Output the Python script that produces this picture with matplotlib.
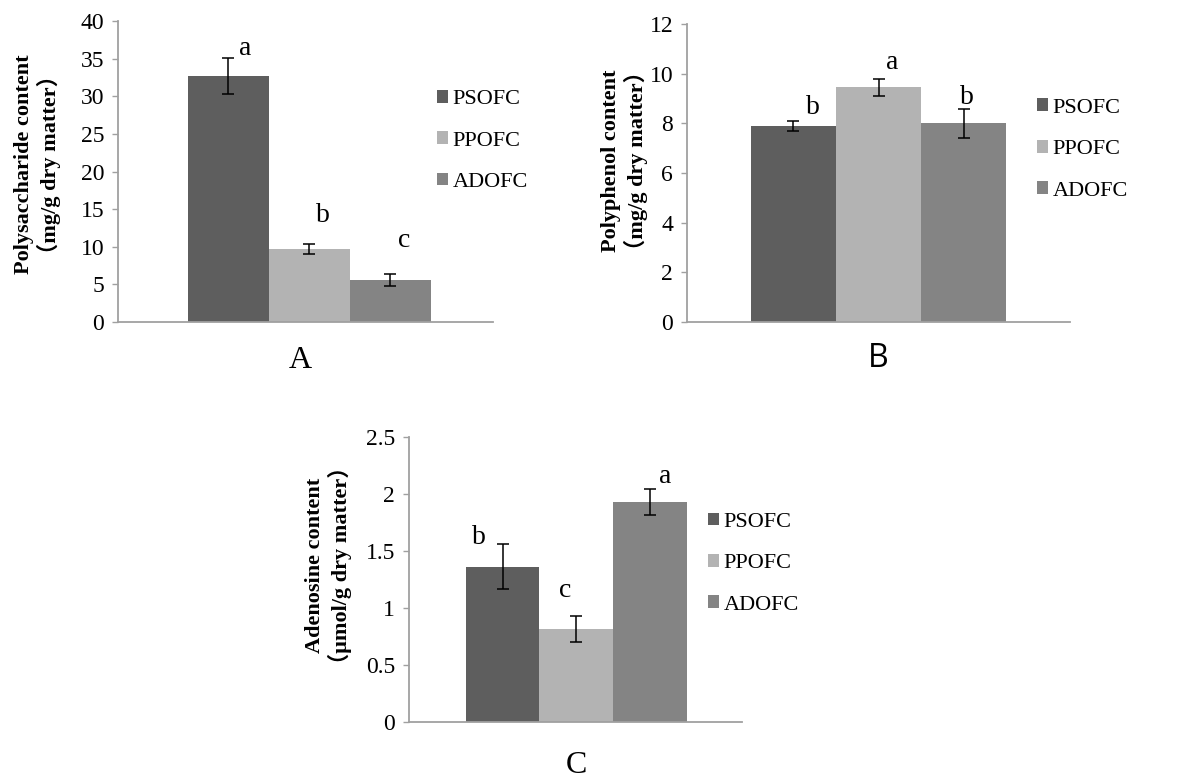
import matplotlib
matplotlib.use("Agg")
import matplotlib.pyplot as plt
from matplotlib.patches import Patch

# data
groups = ["PSOFC", "PPOFC", "ADOFC"]
colors = ["#5e5e5e", "#b3b3b3", "#848484"]

poly_sacch = [32.7, 9.7, 5.6]
poly_sacch_err = [2.45, 0.7, 0.8]
poly_sacch_sig = ["a", "b", "c"]

poly_phen = [7.9, 9.45, 8.0]
poly_phen_err = [0.2, 0.34, 0.57]
poly_phen_sig = ["b", "a", "b"]

adeno = [1.36, 0.81, 1.93]
adeno_err = [0.2, 0.115, 0.115]
adeno_sig = ["b", "c", "a"]

SERIF = ["Liberation Serif", "DejaVu Serif"]
LABEL_FONT = ["Liberation Serif", "Noto Sans CJK SC"]
SPINE = "#a0a0a0"

fig = plt.figure(figsize=(11.98, 7.82), dpi=100)

def panel(rect, vals, errs, sig, sig_off, ylim, yticks, xlim, ylabel, lab_xy,
          leg_xy, panel_lab, panel_xy, panel_family):
    ax = fig.add_axes(rect)
    x = [-1, 0, 1]
    ax.bar(x, vals, width=1.0, color=colors, edgecolor="none", zorder=2)
    ax.errorbar(x, vals, yerr=errs, fmt="none", ecolor="black", elinewidth=1.1,
                capsize=4.5, capthick=1.1, zorder=3)
    for xi, v, e, s, (dx, dy) in zip(x, vals, errs, sig, sig_off):
        ax.annotate(s, (xi, v + e), xytext=(dx, dy), textcoords="offset points",
                    ha="center", va="baseline", fontsize=20, family=SERIF)
    ax.set_xlim(*xlim)
    ax.set_ylim(*ylim)
    ax.set_yticks(yticks)
    ax.set_yticklabels([f"{t:g}" for t in yticks], family=SERIF, fontsize=17)
    ax.set_xticks([])
    for s in ("top", "right"):
        ax.spines[s].set_visible(False)
    for s in ("left", "bottom"):
        ax.spines[s].set_color(SPINE)
        ax.spines[s].set_linewidth(1.3)
    ax.tick_params(axis="y", length=4, width=1.0, color=SPINE, pad=6)
    fig.text(lab_xy[0], lab_xy[1], ylabel, rotation=90, ha="center", va="center",
             fontsize=16, fontweight="bold", family=LABEL_FONT, linespacing=1.15,
             multialignment="center")
    handles = [Patch(facecolor=c, edgecolor="none", label=g) for c, g in zip(colors, groups)]
    fig.legend(handles=handles, loc="center left", bbox_to_anchor=leg_xy,
               frameon=False, prop={"family": SERIF, "size": 16},
               handlelength=0.5, handleheight=0.5, handletextpad=0.2,
               labelspacing=1.0, borderpad=0, borderaxespad=0)
    fig.text(panel_xy[0], panel_xy[1], panel_lab, ha="center", va="center",
             fontsize=23, family=panel_family)
    return ax

panel([0.0985, 0.5882, 0.313, 0.3849], poly_sacch, poly_sacch_err, poly_sacch_sig,
      [(12, 2), (10, 16), (10, 19)], (0, 40), [0, 5, 10, 15, 20, 25, 30, 35, 40],
      (-2.36, 2.27), "Polysaccharide content\n\uff08mg/g dry matter\uff09",
      (0.031, 0.79), (0.3648, 0.8197), "A", (0.2504, 0.5396), SERIF)

panel([0.5735, 0.5882, 0.3197, 0.3811], poly_phen, poly_phen_err, poly_phen_sig,
      [(14, 5), (10, 7), (2, 4)], (0, 12), [0, 2, 4, 6, 8, 10, 12],
      (-2.25, 2.25), "Polyphenol content\n\uff08mg/g dry matter\uff09",
      (0.521, 0.795), (0.8656, 0.8088), "B", (0.7329, 0.542), ["Open Sans", "DejaVu Sans"])

panel([0.3414, 0.0771, 0.278, 0.3645], adeno, adeno_err, adeno_sig,
      [(-17, 0), (-8, 14), (11, 4)], (0, 2.5), [0, 0.5, 1, 1.5, 2, 2.5],
      (-2.27, 2.25), "Adenosine content\n\uff08\u03bcmol/g dry matter\uff09",
      (0.274, 0.277), (0.591, 0.2792), "C", (0.4808, 0.0205), SERIF)

fig.savefig("out.png", dpi=100)
